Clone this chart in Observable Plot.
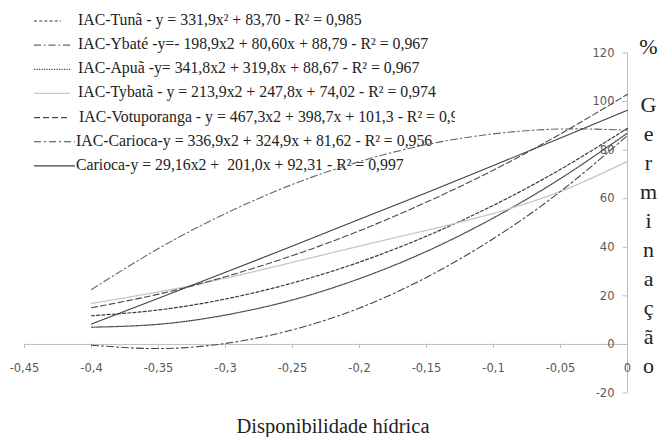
<!DOCTYPE html>
<html><head><meta charset="utf-8">
<script src="https://cdn.jsdelivr.net/npm/d3@7"></script>
<script src="https://cdn.jsdelivr.net/npm/@observablehq/plot@0.6"></script>
<style>
body{margin:0;background:#fff}
#chart{position:relative;width:661px;height:437px}
g[aria-label="serif-title"] text, g[aria-label="serif-title"] tspan, text.legend-text { font-family: 'Liberation Serif', 'Times New Roman', serif !important; }
g[aria-label="tick-label"] text { font-family: 'DejaVu Sans', sans-serif !important; }
</style>
</head><body><div id="chart"></div>
<script>
// ---- data ----
const xValues = [-0.4, -0.35, -0.3, -0.25, -0.2, -0.15, -0.1, -0.05, 0];
const tunaValues        = [11.8, 14.2, 18.7, 25.3, 33.9, 44.6, 57.3, 72.1, 89.0];
const ybateValues       = [22.6, 39.5, 53.9, 65.9, 75.3, 82.3, 86.7, 88.7, 88.2];
const apuaValues        = [7.1, 8.3, 12.1, 18.3, 27.1, 38.3, 52.1, 68.3, 87.0];
const tybataValues      = [16.9, 21.6, 27.3, 33.8, 40.5, 47.0, 54.0, 63.0, 75.4];
const votuporangaValues = [15.1, 20.7, 27.9, 36.6, 46.8, 58.6, 71.8, 86.7, 103.0];
const iacCariocaValues  = [-0.3, -1.7, 0.4, 6.0, 15.0, 27.6, 43.6, 63.0, 86.0];
const cariocaValues     = [8.4, 19.0, 29.7, 40.5, 51.5, 62.5, 73.7, 85.0, 96.4];

const seriesNames = ["IAC-Tunã", "IAC-Ybaté", "IAC-Apuã", "IAC-Tybatã", "IAC-Votuporanga", "IAC-Carioca", "Carioca"];
const seriesValues = [tunaValues, ybateValues, apuaValues, tybataValues, votuporangaValues, iacCariocaValues, cariocaValues];
const legendLabels = [
  "IAC-Tunã - y = 331,9x² + 83,70 - R² = 0,985",
  "IAC-Ybaté -y=- 198,9x2 + 80,60x + 88,79 - R² = 0,967",
  "IAC-Apuã -y= 341,8x2 + 319,8x + 88,67 - R² = 0,967",
  "IAC-Tybatã - y = 213,9x2 + 247,8x + 74,02 - R² = 0,974",
  "IAC-Votuporanga - y = 467,3x2 + 398,7x + 101,3 - R² = 0,970",
  "IAC-Carioca-y = 336,9x2 + 324,9x + 81,62 - R² = 0,956",
  "Carioca-y = 29,16x2 +  201,0x + 92,31 - R² = 0,997"
];
const xTicks = [-0.45, -0.4, -0.35, -0.3, -0.25, -0.2, -0.15, -0.1, -0.05, 0];
const yTicks = [-20, 0, 20, 40, 60, 80, 100, 120];
const xTitle = "Disponibilidade hídrica";
const yUnit = "%";
const yTitle = "Germinação";

// ---- styles ----
const seriesStyles = [
  {stroke: "#3a3a3a", dash: "3,2.2", width: 1.2},
  {stroke: "#666666", dash: "7,3,1.5,3", width: 1.1},
  {stroke: "#4a4a4a", dash: "1.2,1.3", width: 1.3},
  {stroke: "#c6c6c6", dash: null, width: 1.3},
  {stroke: "#4a4a4a", dash: "6,3", width: 1.1},
  {stroke: "#454545", dash: "7,3,2,3", width: 1.1},
  {stroke: "#404040", dash: null, width: 1.1}
];
const legendLayout = {top: 25, step: 24.15, swatchX1: 34, swatchEnds: [61, 70, 70, 70, 70, 75, 75], textXs: [78, 78, 78, 78, 79, 76, 76], clipRight: 455};
const axisColor = "#bdbdbd";
const tickFont = {fontFamily: "DejaVu Sans", fontSize: 11.5, fill: "#595959", ariaLabel: "tick-label"};
const serif = "'Liberation Serif', 'Times New Roman', serif";

const fmt = d => d === 0 ? "0" : String(d).replace(".", ",");

const lineMarks = seriesValues.map((vals, k) => {
  const table = xValues.map((x, i) => ({x, y: vals[i], name: seriesNames[k]}));
  const s = seriesStyles[k];
  return Plot.line(table, {x: "x", y: "y", curve: "natural", stroke: s.stroke, strokeWidth: s.width, strokeDasharray: s.dash ?? undefined});
});

const titleFont = {fontFamily: serif, fill: "#222", ariaLabel: "serif-title", textAnchor: "middle", lineAnchor: "middle"};

const plot = Plot.plot({
  width: 661, height: 437,
  marginLeft: 24, marginRight: 34, marginTop: 52.5, marginBottom: 44.5,
  x: {domain: [-0.45, 0], axis: null},
  y: {domain: [-20, 120], axis: null},
  style: {background: "white", overflow: "visible"},
  marks: [
    Plot.ruleY([0], {x1: -0.45, x2: 0, stroke: axisColor}),
    Plot.ruleX([0], {y1: -20, y2: 120, stroke: axisColor}),
    Plot.ruleX(xTicks, {x: d => d, y1: 0, y2: 0, insetBottom: -4, stroke: axisColor}),
    Plot.ruleY(yTicks, {y: d => d, x1: 0, x2: 0, insetLeft: -4.5, stroke: axisColor}),
    Plot.text(xTicks, {x: d => d, y: 0, dy: 24, text: fmt, ...tickFont}),
    Plot.text(yTicks, {x: 0, y: d => d, dx: -13, textAnchor: "end", text: fmt, ...tickFont}),
    ...lineMarks,
    Plot.text([yUnit], {text: d => d, frameAnchor: "top-right", dx: 21, dy: -6, fontSize: 22, ...titleFont}),
    Plot.text([yTitle], {text: d => [...d].join("\n"), frameAnchor: "right", dx: 21, dy: 10, lineHeight: 29 / 22, fontSize: 22, ...titleFont}),
    Plot.text([xTitle], {text: d => d, frameAnchor: "bottom", dx: 7, dy: 33, fontSize: 20.5, ...titleFont})
  ]
});
document.getElementById("chart").appendChild(plot);

// ---- legend (drawn beneath the curves) ----
const svg = d3.select(plot);
svg.append("defs").append("clipPath").attr("id", "legclip")
  .append("rect").attr("x", 0).attr("y", 0).attr("width", legendLayout.clipRight).attr("height", 200);
const leg = svg.insert("g", "g").attr("clip-path", "url(#legclip)");
legendLabels.forEach((label, i) => {
  const yb = legendLayout.top + legendLayout.step * i;
  const s = seriesStyles[i];
  leg.append("line")
    .attr("x1", legendLayout.swatchX1).attr("x2", legendLayout.swatchEnds[i])
    .attr("y1", yb - 4).attr("y2", yb - 4)
    .attr("stroke", s.stroke).attr("stroke-width", s.width)
    .attr("stroke-dasharray", s.dash);
  leg.append("text")
    .attr("class", "legend-text")
    .attr("x", legendLayout.textXs[i]).attr("y", yb)
    .attr("text-anchor", "start")
    .attr("font-size", 15.8).attr("fill", "#222")
    .style("white-space", "pre")
    .text(label);
});
</script>
</body></html>
